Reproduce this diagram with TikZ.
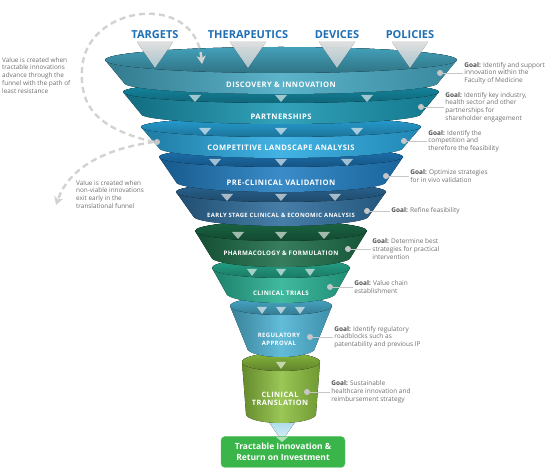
\documentclass[tikz,border=0pt]{standalone}
\usepackage{fontspec}
\setmainfont{Open Sans}
\newfontfamily\stagefont{Open Sans}[LetterSpace=6]
\usetikzlibrary{positioning,arrows.meta}

\definecolor{discovery}{HTML}{46A9C3}
\definecolor{partner}{HTML}{1795B0}
\definecolor{competitive}{HTML}{29A9E1}
\definecolor{preclinical}{HTML}{1F7CC1}
\definecolor{earlystage}{HTML}{2D6C9C}
\definecolor{pharma}{HTML}{1B6B47}
\definecolor{trials}{HTML}{27B092}
\definecolor{regulatory}{HTML}{4DB3D4}
\definecolor{translation}{HTML}{8CBF3F}
\definecolor{resultgreen}{HTML}{3AB54A}
\definecolor{headblue}{HTML}{1F6FB5}
\definecolor{goalgray}{HTML}{6D6E71}
\definecolor{goaldark}{HTML}{4D4D4F}

% one ring of the funnel: colour, y top, rx top, ry top, y bottom, rx bottom, ry bottom
\newcommand{\funnelring}[7]{%
  \fill[left color=#1!72!black, right color=#1!80!black, middle color=#1!88!white]
    (281-#3,#2) arc[start angle=180, end angle=360, x radius=#3, y radius=#4]
    -- (281+#6,#5) arc[start angle=0, end angle=180, x radius=#6, y radius=#7] -- cycle;
  \fill[top color=#1!95!black, bottom color=#1!68!black]
    (281,#2) ellipse[x radius=#3, y radius=#4];
}

\tikzset{
  stage/.style={text=white, align=center,
    font=\stagefont\bfseries\fontsize{7.6}{8.6}\selectfont},
  header/.style={text=headblue, font=\bfseries\fontsize{11}{12}\selectfont},
  goaldot/.style={circle, fill=gray!45, inner sep=0pt, minimum size=6pt},
  goaltext/.style={text=goalgray, align=left, inner sep=1pt,
    font=\fontsize{6.5}{7.7}\selectfont},
  goalline/.style={draw=gray!45, line width=0.9pt},
  sidenote/.style={text=goalgray, align=left, inner sep=0pt,
    font=\fontsize{6.4}{7.8}\selectfont},
  dashflow/.style={draw=gray!35, line width=2.4pt, dash pattern=on 6pt off 4pt,
    -{Stealth[length=8pt, width=9pt, inset=2pt]}},
  arrowtri/.style={fill=white, fill opacity=0.6},
  resultbox/.style={draw=resultgreen!80!white, fill=resultgreen, rounded corners=4pt,
    minimum width=124pt, minimum height=31pt, text=white, align=center,
    font=\bfseries\fontsize{8.5}{10.5}\selectfont}
}

\begin{document}
\begin{tikzpicture}[x=1pt, y=-1pt]
  \useasboundingbox (0,0) rectangle (550,473);

  % spout below the funnel
  \fill[top color=regulatory!55!white, bottom color=regulatory!20!white]
    (264,415) -- (300,415) -- (282,441) -- cycle;

  % rings, bottom first
  \foreach \col/\yt/\rxt/\ryt/\yb/\rxb/\ryb in {
      translation/362/39/9/414/35/9,
      regulatory/306/51/9/348/34/9,
      trials/268/69/10/293/55/10,
      pharma/231/86/10/257/70/10,
      earlystage/192/105/10/216/88/10,
      preclinical/157/122/10/182/105/10,
      competitive/127/140/10/148/122/10,
      partner/92/158/11/114/140/10,
      discovery/60/176/13/83/157/11}
    \funnelring{\col}{\yt}{\rxt}{\ryt}{\yb}{\rxb}{\ryb};

  % small arrows on the rims
  \foreach \y/\xs/\w in {98/{195,281,367}/6, 131/{205,281,357}/6,
      162/{215,281,347}/6, 197/{227,281,335}/6, 235/{238,281,324}/6,
      272/{252,281,310}/5, 310/{262,281,300}/5, 365/{281}/5}
    \foreach \x in \xs
      \fill[arrowtri] (\x-\w,\y-3) -- (\x+\w,\y-3) -- (\x,\y+4) -- cycle;

  % inputs at the top
  \foreach \hx/\name in {155/TARGETS, 248/THERAPEUTICS, 337/DEVICES, 410/POLICIES} {
    \fill[top color=white, bottom color=white!70!discovery, opacity=0.85]
      (\hx-18,42) -- (\hx+18,42) -- (\hx,68) -- cycle;
    \node[header] (head-\name) at (\hx,35) {\name};
  }

  % stage labels
  \node[stage] (discov) at (281,85) {DISCOVERY \& INNOVATION};
  \node[stage] (partn) at (281,117) {PARTNERSHIPS};
  \node[stage] (compet) at (281,148) {COMPETITIVE LANDSCAPE ANALYSIS};
  \node[stage] (precl) at (281,183) {PRE-CLINICAL VALIDATION};
  \node[stage, font=\stagefont\bfseries\fontsize{5.9}{7}\selectfont] (early) at (281,215)
    {EARLY STAGE CLINICAL \& ECONOMIC ANALYSIS};
  \node[stage, font=\stagefont\bfseries\fontsize{6.2}{7}\selectfont] (pharm) at (281,253)
    {PHARMACOLOGY \& FORMULATION};
  \node[stage, font=\stagefont\bfseries\fontsize{6.2}{7}\selectfont] (trial) at (281,293)
    {CLINICAL TRIALS};
  \node[stage, font=\stagefont\bfseries\fontsize{6}{8}\selectfont] (regul) at (279,339)
    {REGULATORY\\APPROVAL};
  \node[stage, font=\stagefont\bfseries\fontsize{7.4}{8.6}\selectfont] (transl) at (280,399)
    {CLINICAL\\TRANSLATION};

  % result
  \node[resultbox] (result) at (283,452) {Tractable Innovation \&\\Return on Investment};
  \fill[arrowtri] (276,437) -- (288,437) -- (282,442) -- cycle;

  % goals
  \node[goaldot] (dot1) at (440,73) {};
  \node[goaltext, right=20pt of dot1] (goal1)
    {\textcolor{goaldark}{\textbf{Goal:}} Identify and support\\innovation within the\\Faculty of Medicine};
  \node[goaldot] (dot2) at (421,107) {};
  \node[goaltext, right=20pt of dot2] (goal2)
    {\textcolor{goaldark}{\textbf{Goal:}} Identify key industry,\\health sector and other\\partnerships for\\shareholder engagement};
  \node[goaldot] (dot3) at (404,141) {};
  \node[goaltext, right=20pt of dot3] (goal3)
    {\textcolor{goaldark}{\textbf{Goal:}} Identify the\\competition and\\therefore the feasibility};
  \node[goaldot] (dot4) at (386,176) {};
  \node[goaltext, right=20pt of dot4] (goal4)
    {\textcolor{goaldark}{\textbf{Goal:}} Optimize strategies\\for in vivo validation};
  \node[goaldot] (dot5) at (367,211) {};
  \node[goaltext, right=20pt of dot5] (goal5)
    {\textcolor{goaldark}{\textbf{Goal:}} Refine feasibility};
  \node[goaldot] (dot6) at (348,249) {};
  \node[goaltext, right=20pt of dot6] (goal6)
    {\textcolor{goaldark}{\textbf{Goal:}} Determine best\\strategies for practical\\intervention};
  \node[goaldot] (dot7) at (330,287) {};
  \node[goaltext, right=20pt of dot7] (goal7)
    {\textcolor{goaldark}{\textbf{Goal:}} Value chain\\establishment};
  \node[goaldot] (dot8) at (310,337) {};
  \node[goaltext, right=20pt of dot8] (goal8)
    {\textcolor{goaldark}{\textbf{Goal:}} Identify regulatory\\roadblocks such as\\patentability and previous IP};
  \node[goaldot] (dot9) at (307,392) {};
  \node[goaltext, right=20pt of dot9] (goal9)
    {\textcolor{goaldark}{\textbf{Goal:}} Sustainable\\healthcare innovation and\\reimbursement strategy};
  \foreach \i in {1,...,9}
    \draw[goalline] (dot\i) -- (goal\i.west);

  % value paths
  \node[goaldot] (dotcomp) at (157,142) {};
  \coordinate (entry) at (202,64);
  \coordinate (exit) at (56,205);
  \draw[dashflow] (dotcomp.west) .. controls (95,128) and (80,105) .. (82,70)
    .. controls (84,5) and (195,-10) .. (entry);
  \draw[dashflow] (dotcomp.west) .. controls (110,148) and (70,165) .. (exit);
  \node[sidenote, anchor=north west] (flowpath) at (2,57)
    {Value is created when\\tractable innovations\\advance through the\\funnel with the path of\\least resistance};
  \node[sidenote, anchor=north west] (earlyexit) at (76,180)
    {Value is created when\\non-viable innovations\\exit early in the\\translational funnel};
\end{tikzpicture}
\end{document}
